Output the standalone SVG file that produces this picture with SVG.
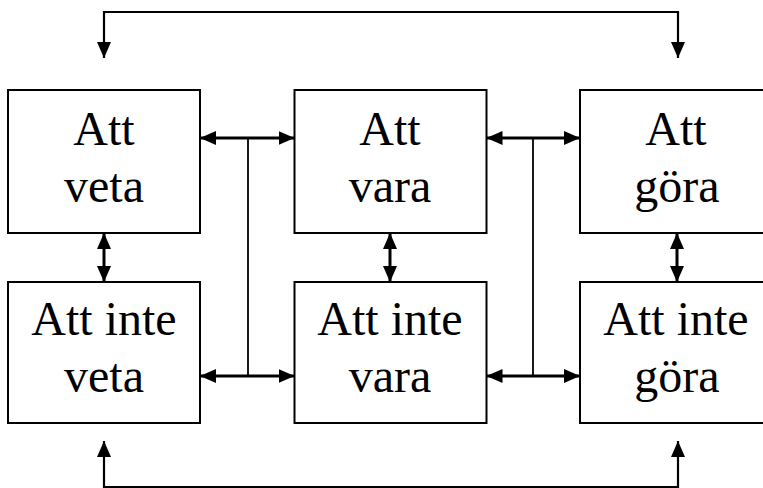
<svg xmlns="http://www.w3.org/2000/svg" width="763" height="488" viewBox="0 0 763 488">
<style>
.box{fill:#fff;stroke:#000;stroke-width:2}
.lbl{font-family:"Liberation Serif","Times New Roman",serif;font-size:48px;fill:#000;text-anchor:middle}
.arr{fill:none;stroke:#000;stroke-width:3;marker-start:url(#ah);marker-end:url(#ah)}
.loop{fill:none;stroke:#000;stroke-width:2.2;marker-start:url(#ah);marker-end:url(#ah)}
.tree{fill:none;stroke:#000;stroke-width:1.8}
</style>
<defs>
<marker id="ah" markerUnits="userSpaceOnUse" markerWidth="16" markerHeight="14" refX="16" refY="7" orient="auto-start-reverse" viewBox="0 0 16 14">
<path d="M0,0 L16,7 L0,14 z" fill="#000"/>
</marker>
</defs>
<rect width="763" height="488" fill="#fff"/>
<g id="n1"><rect class="box" x="8" y="90" width="192" height="143"/><text class="lbl" x="104" y="145">Att</text><text class="lbl" x="104" y="202">veta</text></g>
<g id="n2"><rect class="box" x="294.5" y="90" width="192" height="143"/><text class="lbl" x="390" y="145">Att</text><text class="lbl" x="390" y="202">vara</text></g>
<g id="n3"><rect class="box" x="580" y="90" width="192" height="143"/><text class="lbl" x="676" y="145">Att</text><text class="lbl" x="677" y="202">göra</text></g>
<g id="n4"><rect class="box" x="8" y="282" width="192" height="141"/><text class="lbl" x="104" y="335">Att inte</text><text class="lbl" x="104" y="392">veta</text></g>
<g id="n5"><rect class="box" x="294.5" y="282" width="192" height="141"/><text class="lbl" x="390" y="335">Att inte</text><text class="lbl" x="390" y="392">vara</text></g>
<g id="n6"><rect class="box" x="580" y="282" width="192" height="141"/><text class="lbl" x="676" y="335">Att inte</text><text class="lbl" x="677" y="392">göra</text></g>
<g id="connectors">
<path class="loop" d="M104,58 V12 H678 V58"/>
<path class="loop" d="M104,441 V487 H678 V441"/>
<path class="arr" d="M200,138 H294.5"/>
<path class="arr" d="M200,376 H294.5"/>
<path class="tree" d="M248,138 V376"/>
<path class="arr" d="M486.5,138 H580"/>
<path class="arr" d="M486.5,376 H580"/>
<path class="tree" d="M533,138 V376"/>
<path class="arr" d="M104,233 V282"/>
<path class="arr" d="M390,233 V282"/>
<path class="arr" d="M677,233 V282"/>
</g>
</svg>
